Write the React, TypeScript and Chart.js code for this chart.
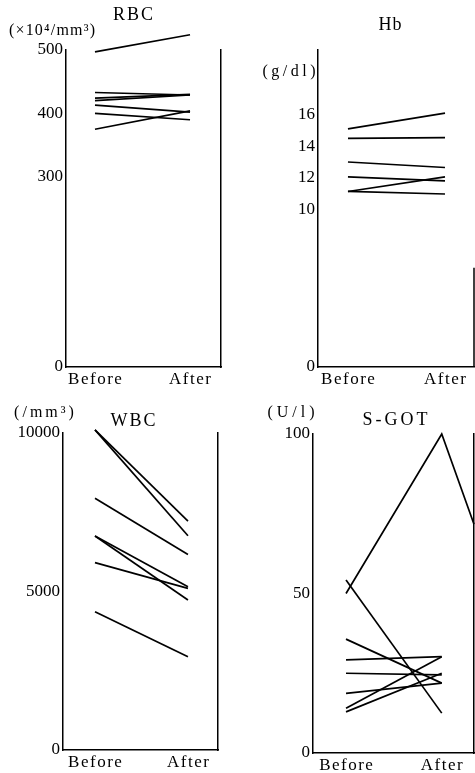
import React, { useEffect, useRef } from "react";
import { Chart, registerables } from "chart.js";

Chart.register(...registerables);

// ---------- data ----------
const X_LABELS = ["Before", "After"];

const RBC_BEFORE = [497, 433, 424, 420, 413, 400, 375];
const RBC_AFTER = [524, 429, 430, 429, 402, 390, 404];
const RBC_TICKS = [0, 300, 400, 500];

const HB_BEFORE = [15.1, 14.5, 13.0, 12.05, 11.13, 11.13];
const HB_AFTER = [16.1, 14.55, 12.65, 11.8, 12.05, 10.97];
const HB_TICKS = [0, 10, 12, 14, 16];

const WBC_BEFORE = [10100, 10100, 7940, 6750, 6750, 5910, 4360];
const WBC_AFTER = [7220, 6760, 6170, 5150, 4730, 5100, 2940];
const WBC_TICKS = [0, 5000, 10000];

const SGOT_BEFORE = [50, 54.2, 35.7, 29.2, 25, 18.7, 14, 12.9];
const SGOT_AFTER = [100, 12.5, 21.9, 30.2, 24.5, 21.9, 30.2, 25];
// the first case continues to a later (cut-off) time point at the right edge
const SGOT_LATER = [71.7, null, null, null, null, null, null, null];
const SGOT_LATER_X = 1.337;
const SGOT_TICKS = [0, 50, 100];

const SERIF = "'Liberation Serif', 'DejaVu Serif', serif";

type Txt = { text: string; x: number; y: number; size: number; spacing: number; align?: CanvasTextAlign };

type PanelCfg = {
  left: number; top: number; w: number; h: number;
  area: { left: number; right: number; top: number; bottom: number };
  xMin: number; xMax: number;
  yMin: number; yMax: number; yTicks: number[];
  series: { x: number; y: number | null }[][];
  texts: Txt[];
  rightLine: boolean;
  partialRight?: number; // draw right line only from this value down
};

function pairs(before: number[], after: number[], later?: (number | null)[], laterX?: number) {
  return before.map((b, i) => {
    const pts: { x: number; y: number | null }[] = [
      { x: 0, y: b },
      { x: 1, y: after[i] },
    ];
    if (later && later[i] != null) pts.push({ x: laterX as number, y: later[i] });
    return pts;
  });
}

const PANELS: PanelCfg[] = [
  {
    left: 0, top: 0, w: 237, h: 390,
    area: { left: 66, right: 221, top: 50, bottom: 367 },
    xMin: -0.305, xMax: 1.326,
    yMin: 0, yMax: 500, yTicks: RBC_TICKS,
    series: pairs(RBC_BEFORE, RBC_AFTER),
    texts: [
      { text: "RBC", x: 133, y: 15, size: 18, spacing: 2 },
      { text: "(×10⁴/mm³)", x: 52, y: 31, size: 16, spacing: 1.2 },
    ],
    rightLine: true,
  },
  {
    left: 238, top: 0, w: 237, h: 390,
    area: { left: 80, right: 236, top: 50, bottom: 367 },
    xMin: -0.309, xMax: 1.299,
    yMin: 0, yMax: 20.1, yTicks: HB_TICKS,
    series: pairs(HB_BEFORE, HB_AFTER),
    texts: [
      { text: "Hb", x: 152, y: 25, size: 18, spacing: 1 },
      { text: "(g/dl)", x: 51, y: 72, size: 16, spacing: 3.5 },
    ],
    rightLine: false,
    partialRight: 6.3,
  },
  {
    left: 0, top: 390, w: 237, h: 383,
    area: { left: 63, right: 218, top: 43, bottom: 360 },
    xMin: -0.344, xMax: 1.323,
    yMin: 0, yMax: 10000, yTicks: WBC_TICKS,
    series: pairs(WBC_BEFORE, WBC_AFTER),
    texts: [
      { text: "WBC", x: 133, y: 31, size: 18, spacing: 2 },
      { text: "(/mm³)", x: 44, y: 23, size: 16, spacing: 3 },
    ],
    rightLine: true,
  },
  {
    left: 238, top: 390, w: 237, h: 383,
    area: { left: 75, right: 236, top: 44, bottom: 363 },
    xMin: -0.345, xMax: 1.337,
    yMin: 0, yMax: 100, yTicks: SGOT_TICKS,
    series: pairs(SGOT_BEFORE, SGOT_AFTER, SGOT_LATER, SGOT_LATER_X),
    texts: [
      { text: "S-GOT", x: 157, y: 30, size: 18, spacing: 3 },
      { text: "(U/l)", x: 53, y: 23, size: 16, spacing: 4 },
    ],
    rightLine: true,
  },
];

function buildConfig(p: PanelCfg): any {
  const deco = {
    id: "deco",
    afterDraw(chart: any) {
      const ctx = chart.ctx as CanvasRenderingContext2D;
      const xs = chart.scales.x;
      const ys = chart.scales.y;
      ctx.save();
      ctx.fillStyle = "#000";
      ctx.textBaseline = "middle";
      for (const t of p.texts) {
        ctx.font = `${t.size}px ${SERIF}`;
        (ctx as any).letterSpacing = `${t.spacing}px`;
        ctx.textAlign = t.align || "center";
        ctx.fillText(t.text, t.x + t.spacing / 2, t.y);
      }
      ctx.font = `17px ${SERIF}`;
      (ctx as any).letterSpacing = "1.5px";
      ctx.textAlign = "center";
      X_LABELS.forEach((lab, i) => {
        ctx.fillText(lab, xs.getPixelForValue(i) + 0.75, p.area.bottom + 13);
      });
      if (p.partialRight != null) {
        ctx.strokeStyle = "#000";
        ctx.lineWidth = 1.5;
        ctx.beginPath();
        ctx.moveTo(chart.chartArea.right, ys.getPixelForValue(p.partialRight));
        ctx.lineTo(chart.chartArea.right, ys.getPixelForValue(0));
        ctx.stroke();
      }
      ctx.restore();
    },
  };

  return {
    type: "line",
    data: {
      datasets: p.series.map((pts) => ({
        data: pts,
        borderColor: "#000",
        borderWidth: 1.7,
        pointRadius: 0,
        fill: false,
        tension: 0,
        clip: false,
        spanGaps: false,
      })),
    },
    options: {
      responsive: false,
      animation: false,
      devicePixelRatio: 1,
      layout: { padding: { top: p.area.top, left: 0, right: 0, bottom: 0 } },
      plugins: { legend: { display: false }, tooltip: { enabled: false }, title: { display: false } },
      scales: {
        x: {
          type: "linear",
          min: p.xMin,
          max: p.xMax,
          ticks: { display: false },
          grid: { display: false, drawTicks: false },
          border: { display: true, color: "#000", width: 1.5 },
          afterFit: (s: any) => { s.height = p.h - p.area.bottom; },
        },
        y: {
          type: "linear",
          position: "left",
          min: p.yMin,
          max: p.yMax,
          afterBuildTicks: (s: any) => { s.ticks = p.yTicks.map((v) => ({ value: v })); },
          ticks: {
            font: { size: 17, family: SERIF },
            color: "#000",
            padding: 3,
            autoSkip: false,
            callback: (v: any) => String(v),
          },
          grid: { display: false, drawTicks: false },
          border: { display: true, color: "#000", width: 1.5 },
          afterFit: (s: any) => { s.width = p.area.left; },
        },
        y2: {
          type: "linear",
          position: "right",
          display: true,
          ticks: { display: false },
          grid: { display: false, drawTicks: false },
          border: { display: p.rightLine, color: "#000", width: 1.5 },
          afterFit: (s: any) => { s.width = p.w - p.area.right; },
        },
      },
    },
    plugins: [deco],
  };
}

function Panel({ p }: { p: PanelCfg }) {
  const ref = useRef<HTMLCanvasElement>(null);
  useEffect(() => {
    const chart = new Chart(ref.current as HTMLCanvasElement, buildConfig(p));
    return () => chart.destroy();
  }, []);
  return (
    <canvas
      ref={ref}
      width={p.w}
      height={p.h}
      style={{ position: "absolute", left: p.left, top: p.top, width: p.w, height: p.h }}
    />
  );
}

export default function App() {
  return (
    <div style={{ position: "absolute", left: 0, top: 0, width: 475, height: 773, background: "#fff" }}>
      {PANELS.map((p, i) => (
        <Panel key={i} p={p} />
      ))}
    </div>
  );
}
